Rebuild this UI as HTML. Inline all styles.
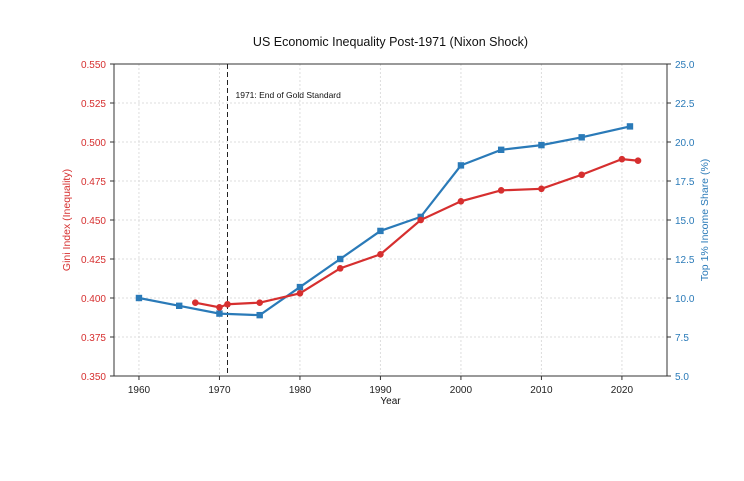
<!DOCTYPE html>
<html><head><meta charset="utf-8"><style>
body{margin:0;background:#fff;width:744px;height:476px;overflow:hidden}
svg text{font-family:"Liberation Sans",sans-serif}
</style></head><body>
<svg id="c" width="744" height="476"></svg>
<script>
const redYears=[1967,1970,1971,1975,1980,1985,1990,1995,2000,2005,2010,2015,2020,2022];
const giniValues=[0.397,0.394,0.396,0.397,0.403,0.419,0.428,0.450,0.462,0.469,0.470,0.479,0.489,0.488];
const blueYears=[1960,1965,1970,1975,1980,1985,1990,1995,2000,2005,2010,2015,2021];
const topShareValues=[10.0,9.5,9.0,8.9,10.7,12.5,14.3,15.2,18.5,19.5,19.8,20.3,21.0];
const xTicks=[1960,1970,1980,1990,2000,2010,2020];
const leftTicks=[0.350,0.375,0.400,0.425,0.450,0.475,0.500,0.525,0.550];
const rightTicks=[5.0,7.5,10.0,12.5,15.0,17.5,20.0,22.5,25.0];
const L=114,R=667,T=64,B=376;
const X=v=>L+(v-1956.9)/(2025.6-1956.9)*(R-L);
const YL=v=>B-(v-0.35)/0.2*(B-T);
const YR=v=>B-(v-5)/20*(B-T);
const RED="#d62f2f",BLUE="#2a7ab8";
const svg=document.getElementById('c');
const NS="http://www.w3.org/2000/svg";
function mk(tag,at,txt){const e=document.createElementNS(NS,tag);for(const k in at)e.setAttribute(k,at[k]);if(txt!=null)e.textContent=txt;svg.appendChild(e);return e;}
// grid
xTicks.forEach(t=>{const e=mk('line',{x1:X(t),x2:X(t),y1:T,y2:B,stroke:'#ddd','stroke-dasharray':'2,2'});

});
leftTicks.forEach(t=>{const e=mk('line',{x1:L,x2:R,y1:YL(t),y2:YL(t),stroke:'#ddd','stroke-dasharray':'2,2'});

});
// frame
const fr=mk('rect',{x:L,y:T,width:R-L,height:B-T,fill:'none',stroke:'#333','stroke-width':1});


// ticks
xTicks.forEach(t=>{mk('line',{x1:X(t),x2:X(t),y1:B,y2:B+4,stroke:'#333'});
const e=mk('text',{x:X(t),y:B+17,'text-anchor':'middle','font-size':10,fill:'#222'},t);

});
leftTicks.forEach(t=>{mk('line',{x1:L-4,x2:L,y1:YL(t),y2:YL(t),stroke:'#333'});
const e=mk('text',{x:L-8,y:YL(t)+4,'text-anchor':'end','font-size':10,fill:RED},t.toFixed(3));

});
rightTicks.forEach(t=>{mk('line',{x1:R,x2:R+4,y1:YR(t),y2:YR(t),stroke:'#333'});
const e=mk('text',{x:R+8,y:YR(t)+4,'font-size':10,fill:BLUE},t.toFixed(1));

});
// vline
const vl=mk('line',{x1:X(1971),x2:X(1971),y1:T,y2:B,stroke:'#222','stroke-dasharray':'5,3'});


const an=mk('text',{x:X(1971)+8,y:98,'font-size':8.5,fill:'#111'},'1971: End of Gold Standard');


// series
const bp=mk('polyline',{points:blueYears.map((y,i)=>X(y)+','+YR(topShareValues[i])).join(' '),fill:'none',stroke:BLUE,'stroke-width':2.2});


blueYears.forEach((y,i)=>{const e=mk('rect',{x:X(y)-3.2,y:YR(topShareValues[i])-3.2,width:6.4,height:6.4,fill:BLUE});

});
const rp=mk('polyline',{points:redYears.map((y,i)=>X(y)+','+YL(giniValues[i])).join(' '),fill:'none',stroke:RED,'stroke-width':2.2});


redYears.forEach((y,i)=>{const e=mk('circle',{cx:X(y),cy:YL(giniValues[i]),r:3.3,fill:RED});

});
// titles
const ti=mk('text',{x:(L+R)/2,y:46,'text-anchor':'middle','font-size':12.5,fill:'#111'},'US Economic Inequality Post-1971 (Nixon Shock)');


const xt=mk('text',{x:(L+R)/2,y:404,'text-anchor':'middle','font-size':10,fill:'#111'},'Year');


const yl=mk('text',{x:0,y:0,'text-anchor':'middle','font-size':10.5,fill:RED,transform:`translate(70,${(T+B)/2}) rotate(-90)`},'Gini Index (Inequality)');


const yr=mk('text',{x:0,y:0,'text-anchor':'middle','font-size':10.5,fill:BLUE,transform:`translate(708,${(T+B)/2}) rotate(-90)`},'Top 1% Income Share (%)');


</script>
</body></html>
